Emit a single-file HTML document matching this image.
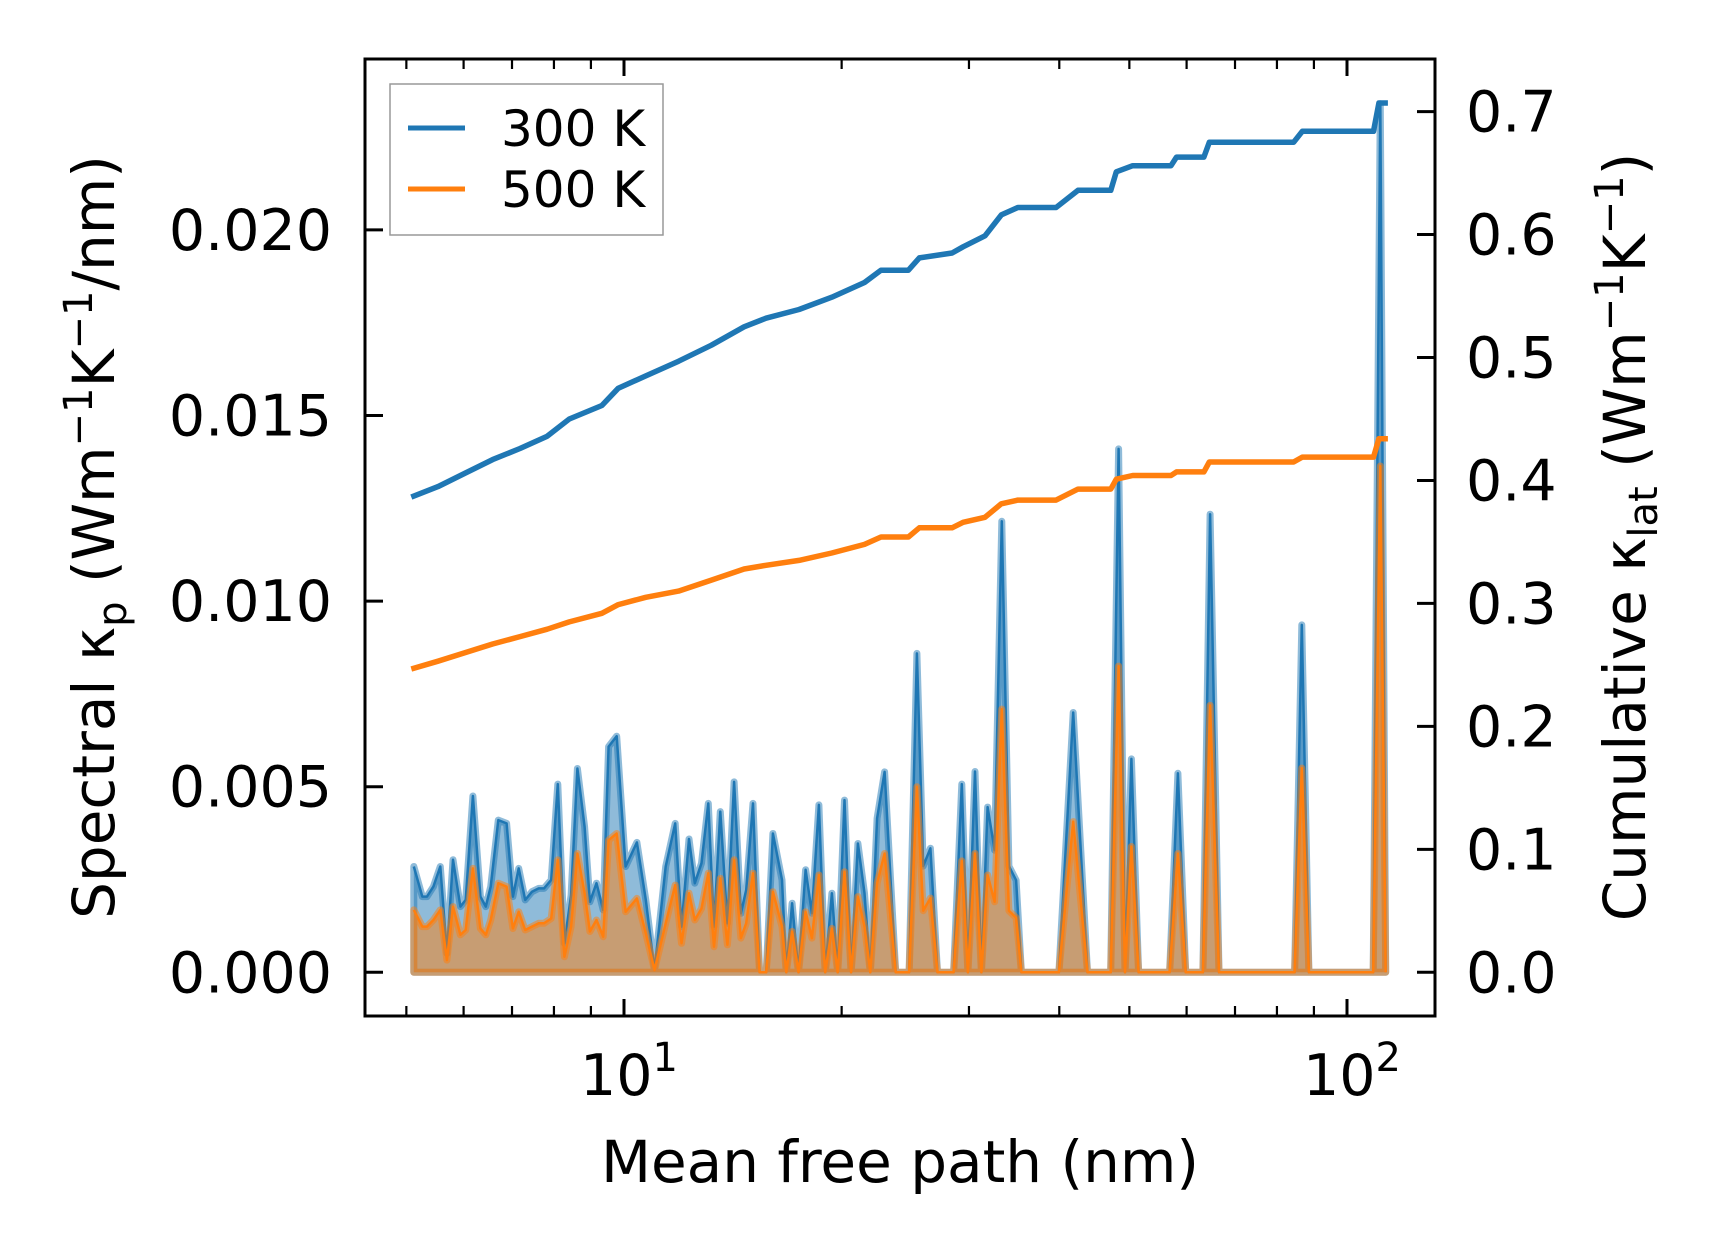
<!DOCTYPE html>
<html><head><meta charset="utf-8"><style>
html,body{margin:0;padding:0;background:#fff;}
svg{display:block;font-family:"DejaVu Sans","Liberation Sans",sans-serif;}
</style></head><body>
<svg id="chart" width="1716" height="1254" viewBox="0 0 1716 1254" xmlns="http://www.w3.org/2000/svg">
<rect x="0" y="0" width="1716" height="1254" fill="#fff"/>
<g id="marks"></g>
<g id="axes"></g>
<text x="900" y="1182" font-size="58" text-anchor="middle">Mean free path (nm)</text>
<text transform="translate(114,537) rotate(-90)" font-size="58" text-anchor="middle">Spectral κ<tspan font-size="40" dy="12">p</tspan><tspan dy="-12"> (Wm</tspan><tspan font-size="40" dy="-22">−1</tspan><tspan dy="22">K</tspan><tspan font-size="40" dy="-22">−1</tspan><tspan dy="22">/nm)</tspan></text>
<text transform="translate(1645,537) rotate(-90)" font-size="58" text-anchor="middle">Cumulative κ<tspan font-size="40" dy="12">lat</tspan><tspan dy="-12"> (Wm</tspan><tspan font-size="40" dy="-22">−1</tspan><tspan dy="22">K</tspan><tspan font-size="40" dy="-22">−1</tspan><tspan dy="22">)</tspan></text>
<g>
<rect x="390" y="84" width="273" height="151" fill="#fff" stroke="#999" stroke-width="1.5"/>
<line x1="408" y1="128" x2="465" y2="128" stroke="#1f77b4" stroke-width="5"/>
<text x="501" y="146" font-size="50">300 K</text>
<line x1="408" y1="189" x2="465" y2="189" stroke="#ff7f0e" stroke-width="5"/>
<text x="501" y="207" font-size="50">500 K</text>
</g>
</svg>
<script>
// Spectral data: mean free path (nm) and spectral kappa (units of 1e-3 W/mK/nm)
const mfp = [5.12,5.26,5.34,5.45,5.57,5.69,5.80,5.94,6.04,6.18,6.33,6.44,6.54,6.70,6.88,7.02,7.15,7.30,7.46,7.62,7.75,7.93,8.10,8.27,8.45,8.62,8.82,8.97,9.16,9.36,9.52,9.77,10.05,10.42,10.72,11.02,11.42,11.77,12.01,12.30,12.53,12.80,13.08,13.32,13.59,13.90,14.20,14.51,14.76,15.08,15.40,15.73,16.07,16.54,16.77,17.08,17.43,17.83,18.19,18.60,18.98,19.39,19.75,20.18,20.61,21.06,21.51,21.91,22.39,22.93,23.76,24.79,25.42,25.93,26.53,27.14,28.57,29.32,29.90,30.58,31.21,31.83,32.55,33.31,34.07,34.86,35.45,39.95,41.81,43.76,47.12,48.32,49.31,50.33,51.50,56.84,58.36,59.82,63.20,64.66,66.52,84.63,86.58,88.58,108.7,111.2,113.1];
const kp300 = [2.85,2.04,2.04,2.31,2.85,0.51,3.03,1.77,1.95,4.75,2.04,1.77,2.31,4.10,4.01,2.04,2.80,1.95,2.17,2.26,2.26,2.49,5.07,0.78,2.08,5.49,3.92,1.90,2.40,1.68,6.08,6.36,2.85,3.50,1.95,0.06,2.85,4.01,1.23,3.59,2.40,2.94,4.55,1.23,4.33,1.32,5.13,1.59,2.22,4.55,0,0,3.74,2.49,0,1.86,0,2.76,1.59,4.51,0,2.13,0,4.64,0,3.47,2.13,0,4.15,5.40,0,0,8.59,2.86,3.34,0,0,5.07,0,5.41,0,4.45,3.29,12.15,2.86,2.48,0,0,7.0,0,0,14.1,0,5.75,0,0,5.36,0,0,12.34,0,0,9.36,0,0,23.4,0];
const kp500 = [1.68,1.23,1.23,1.41,1.68,0.33,1.77,1.01,1.14,2.80,1.18,1.01,1.41,2.40,2.31,1.18,1.63,1.14,1.23,1.32,1.32,1.45,3.03,0.42,1.23,3.20,2.13,1.10,1.41,0.96,3.56,3.74,1.63,1.99,1.05,0.06,1.32,2.35,0.78,2.13,1.41,1.72,2.67,0.69,2.53,0.74,3.03,0.92,1.32,2.67,0,0,2.17,1.23,0,1.10,0,1.63,0.92,2.62,0,1.18,0,2.71,0,2.04,1.23,0,2.40,3.20,0,0,5.0,1.66,2.0,0,0,3.0,0,3.2,0,2.62,1.9,7.09,1.66,1.47,0,0,4.06,0,0,8.25,0,3.39,0,0,3.2,0,0,7.19,0,0,5.5,0,0,13.64,0];
// Cumulative data
const mfpCum = [5.08,5.53,6.03,6.58,7.18,7.83,8.40,9.32,9.82,10.72,11.90,13.21,14.66,15.72,17.46,19.38,21.51,22.67,24.74,25.61,28.43,29.45,31.57,33.26,35.05,39.60,42.46,47.13,47.97,50.54,57.10,58.10,63.40,64.50,84.36,86.73,108.8,110.7,113.9];
const cum300 = [0.3865,0.395,0.406,0.417,0.426,0.436,0.45,0.461,0.475,0.485,0.497,0.510,0.525,0.532,0.539,0.549,0.561,0.571,0.571,0.581,0.585,0.590,0.599,0.616,0.622,0.622,0.636,0.636,0.651,0.656,0.656,0.663,0.663,0.675,0.675,0.684,0.684,0.707,0.707];
const cum500 = [0.2467,0.253,0.26,0.267,0.273,0.279,0.285,0.292,0.299,0.305,0.31,0.319,0.328,0.331,0.335,0.341,0.348,0.354,0.354,0.3615,0.3615,0.366,0.370,0.381,0.384,0.384,0.393,0.393,0.401,0.404,0.404,0.407,0.407,0.415,0.415,0.419,0.419,0.434,0.434];
// Ticks
const leftTicks = [0,5,10,15,20];
const leftTickLabels = ["0.000","0.005","0.010","0.015","0.020"];
const rightTicks = [0,0.1,0.2,0.3,0.4,0.5,0.6,0.7];
const rightTickLabels = ["0.0","0.1","0.2","0.3","0.4","0.5","0.6","0.7"];
const xMajor = [10,100];
const xMajorExp = ["1","2"];
const xMinor = [5,6,7,8,9,20,30,40,50,60,70,80,90];

const NS = "http://www.w3.org/2000/svg";
const AX = {l:365, r:1435, t:59, b:1016};
function X(m){ return 624 + 723*Math.log10(m/10); }
function YL(v){ return 972.3 - v*37.12; }
function YR(v){ return 972.3 - v*1229.6; }
function mk(tag, attrs, parent){ const e=document.createElementNS(NS,tag); for(const k in attrs) e.setAttribute(k,attrs[k]); parent.appendChild(e); return e; }
const marks = document.getElementById('marks');
const axes = document.getElementById('axes');

function fillSeries(vals, color, name){
  let d = "M"+X(mfp[0]).toFixed(1)+","+YL(0).toFixed(1);
  for(let i=0;i<mfp.length;i++) d += " L"+X(mfp[i]).toFixed(1)+","+YL(vals[i]).toFixed(1);
  d += " L"+X(mfp[mfp.length-1]).toFixed(1)+","+YL(0).toFixed(1)+" Z";
  const p = mk('path',{d:d, fill:color, 'fill-opacity':0.5, stroke:color, 'stroke-opacity':0.5, 'stroke-width':7, 'stroke-linejoin':'round'}, marks);
  
  
  let d2 = "";
  for(let i=0;i<mfp.length;i++) d2 += (i?" L":"M")+X(mfp[i]).toFixed(1)+","+YL(vals[i]).toFixed(1);
  const l = mk('path',{d:d2, fill:'none', stroke:color, 'stroke-width':2.5, 'stroke-linejoin':'round'}, marks);
  
  
}
fillSeries(kp300, '#1f77b4', 'spectral-300k');
fillSeries(kp500, '#ff7f0e', 'spectral-500k');

function cumLine(vals, color, name){
  let d="";
  for(let i=0;i<mfpCum.length;i++) d += (i?" L":"M")+X(mfpCum[i]).toFixed(1)+","+YR(vals[i]).toFixed(1);
  const l = mk('path',{d:d, fill:'none', stroke:color, 'stroke-width':5.5, 'stroke-linejoin':'round'}, marks);
  
  
}
cumLine(cum300, '#1f77b4', 'cumulative-300k-line');
cumLine(cum500, '#ff7f0e', 'cumulative-500k-line');

// frame
const frame = mk('rect',{x:AX.l,y:AX.t,width:AX.r-AX.l,height:AX.b-AX.t,fill:'none',stroke:'#000','stroke-width':3}, axes);



// left ticks
leftTicks.forEach((v,i)=>{
  const y=YL(v);
  const t = mk('line',{x1:AX.l,y1:y,x2:AX.l+18,y2:y,stroke:'#000','stroke-width':3}, axes);
  
  
  const tx = mk('text',{x:332,y:y+20,'font-size':57,'text-anchor':'end'}, axes);
  tx.textContent = leftTickLabels[i];
  
  
});
// right ticks
rightTicks.forEach((v,i)=>{
  const y=YR(v);
  const t = mk('line',{x1:AX.r-18,y1:y,x2:AX.r,y2:y,stroke:'#000','stroke-width':3}, axes);
  
  
  const tx = mk('text',{x:1466,y:y+20,'font-size':57,'text-anchor':'start'}, axes);
  tx.textContent = rightTickLabels[i];
  
  
});
// x ticks
xMajor.forEach((m,i)=>{
  const x=X(m);
  [[AX.b,AX.b-17],[AX.t,AX.t+17]].forEach(p=>{
    const t = mk('line',{x1:x,y1:p[0],x2:x,y2:p[1],stroke:'#000','stroke-width':3}, axes);
    
    
  });
  const tx = mk('text',{x:x+5,y:1095,'font-size':57,'text-anchor':'middle'}, axes);
  tx.textContent = "10";
  const sup = mk('tspan',{'font-size':40,dy:-24}, tx);
  sup.textContent = xMajorExp[i];
  
  
});
xMinor.forEach(m=>{
  const x=X(m);
  [[AX.b,AX.b-10],[AX.t,AX.t+10]].forEach(p=>{
    const t = mk('line',{x1:x,y1:p[0],x2:x,y2:p[1],stroke:'#000','stroke-width':2.2}, axes);
    
    
  });
});
</script>
</body></html>
